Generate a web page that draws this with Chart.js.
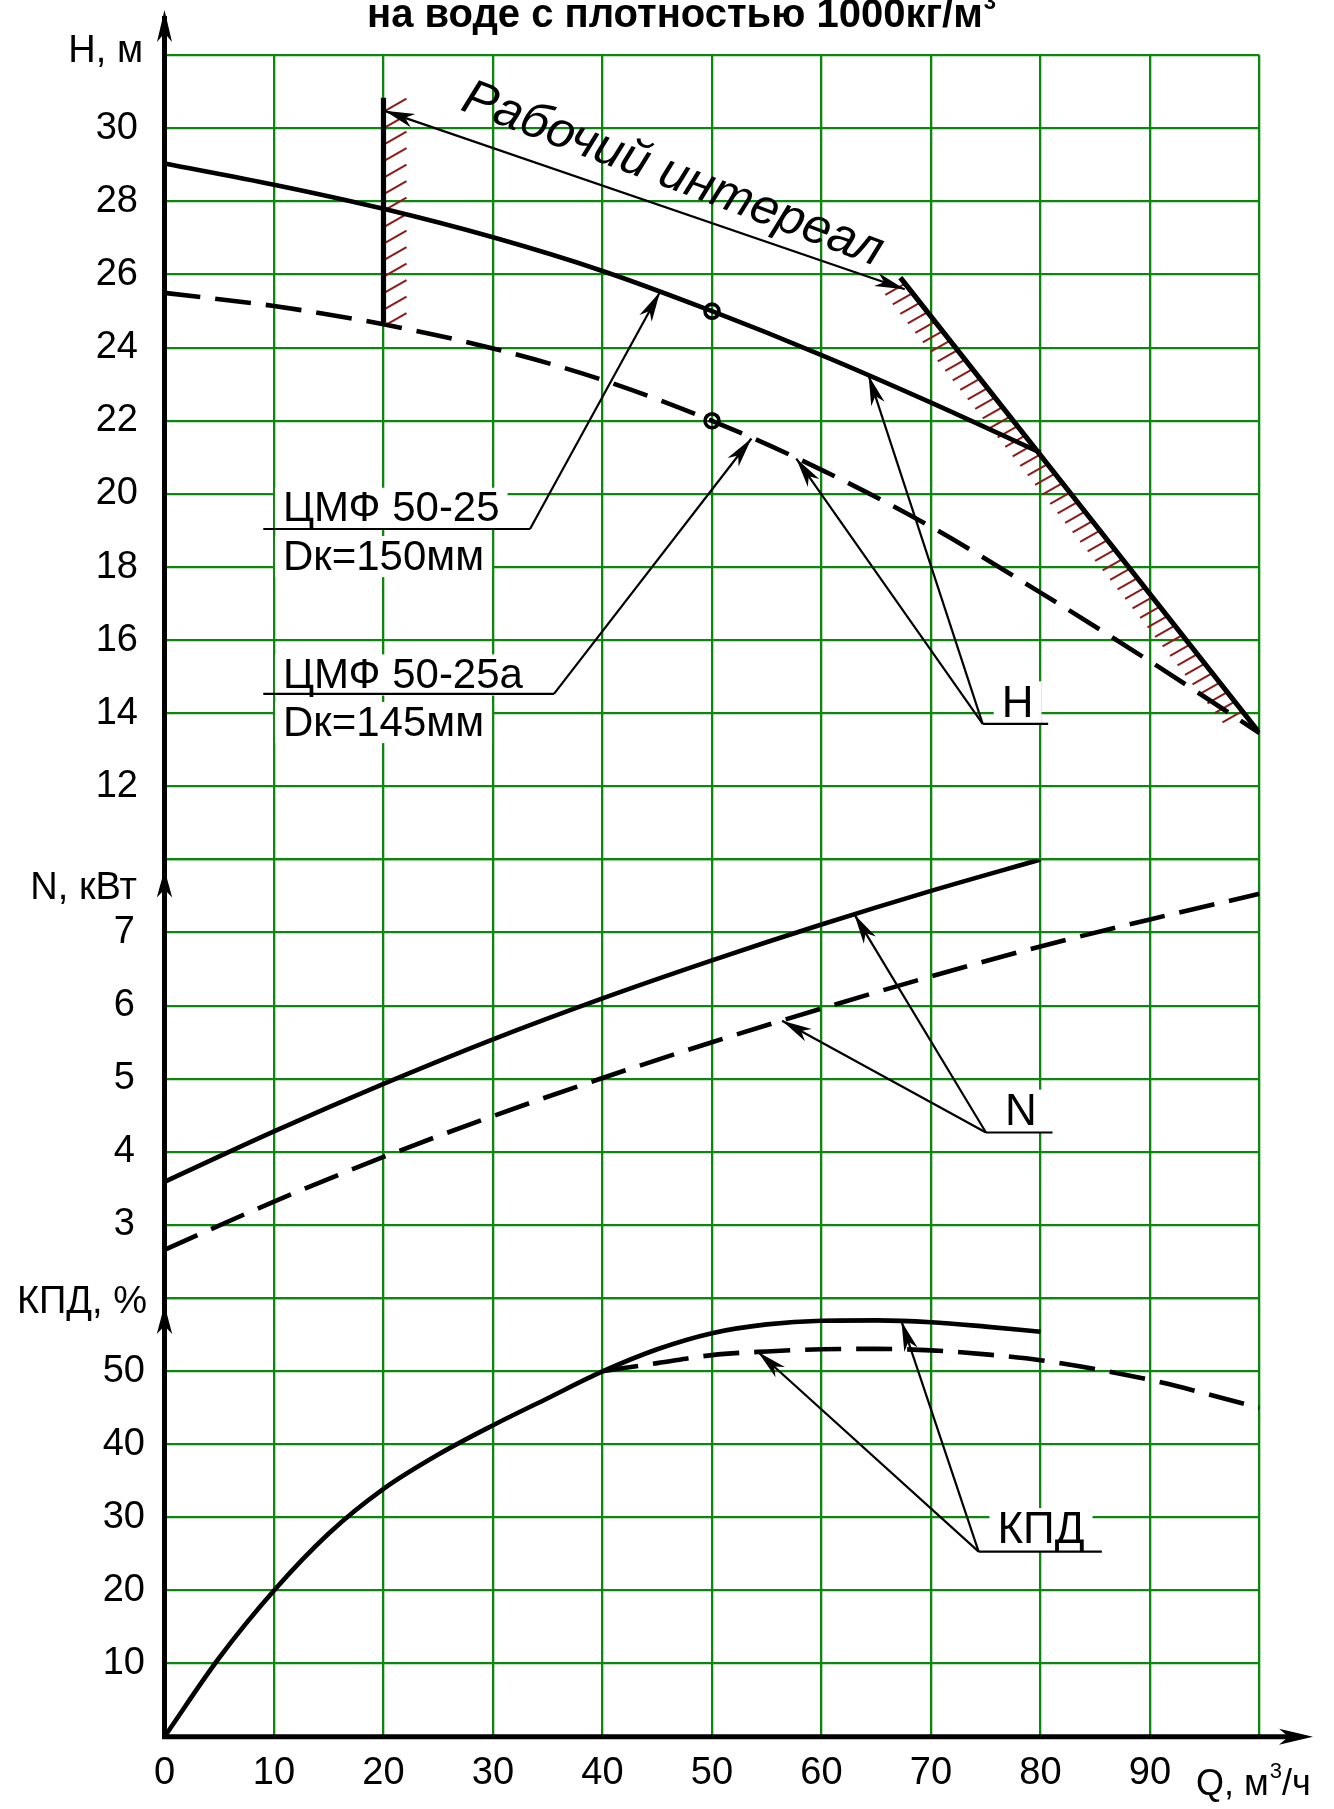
<!DOCTYPE html>
<html>
<head>
<meta charset="utf-8">
<script src="https://cdn.jsdelivr.net/npm/chart.js@4.4.1/dist/chart.umd.min.js"></script>
<style>
  body { margin: 0; background: #fff; }
  canvas { display: block; }
</style>
</head>
<body>
<canvas id="pumpChart" width="1334" height="1809"></canvas>
<script>
// Pump curves ЦМФ 50-25 / 50-25а
const qMain = [0, 10, 20, 30, 40, 50, 60, 70, 80];
const qTrim = [0, 10, 20, 30, 40, 50, 60, 70, 80, 90, 100];

const headMain = [29.04, 28.46, 27.8, 27.02, 26.1, 25.0, 23.8, 22.5, 21.13];
const headTrim = [25.5, 25.14, 24.64, 23.98, 23.12, 22.0, 20.66, 19.1, 17.3, 15.42, 13.46];

const powerMain = [3.59, 4.28, 4.93, 5.54, 6.1, 6.62, 7.11, 7.57, 8.0];
const powerTrim = [2.66, 3.32, 3.93, 4.49, 5.01, 5.5, 5.96, 6.4, 6.81, 7.18, 7.53];

const qEffMain = [0, 5, 10, 15, 20, 25, 30, 35, 40, 45, 50, 55, 60, 65, 70, 75, 80];
const effMain = [0, 10.8, 20, 27.8, 33.9, 38.6, 42.6, 46.3, 49.96, 53.0, 55.2, 56.4, 56.9, 56.95, 56.7, 56.1, 55.4];
const qEffTrim = [40, 45, 50, 55, 60, 65, 70, 75, 80, 90, 100];
const effTrim = [50.0, 51.1, 52.2, 52.7, 53.0, 53.05, 52.85, 52.3, 51.5, 48.8, 45.0];

// working range limits and duty points
const leftLimitQ = [20, 20];
const leftLimitH = [30.84, 24.7];
const rightLimitQ = [67.2, 100];
const rightLimitH = [25.92, 13.46];
const dutyQ = [50, 50];
const dutyH = [25.0, 22.0];

// tick labels
const qTicks = [0, 10, 20, 30, 40, 50, 60, 70, 80, 90];
const headTicks = [12, 14, 16, 18, 20, 22, 24, 26, 28, 30];
const powerTicks = [3, 4, 5, 6, 7];
const effTicks = [10, 20, 30, 40, 50];

const gridGreen = '#0b870b';
const hatchRed = '#8e1b1b';
const fontFamily = "'Liberation Sans', Arial, sans-serif";
const curveWidth = 4.6;
const dashes = [36, 15];

function pts(xs, ys) {
    return xs.map((x, i) => ({ x: x, y: ys[i] }));
}

// linear look-up on a curve, used to land leader arrows on it
function valueAt(xs, ys, q) {
    for (let i = 1; i < xs.length; i++) {
        if (q <= xs[i]) {
            const t = (q - xs[i - 1]) / (xs[i] - xs[i - 1]);
            return ys[i - 1] + t * (ys[i] - ys[i - 1]);
        }
    }
    return ys[ys.length - 1];
}

// callout labels (positions in chart units)
const callouts = [
    { axis: 'yH', under: [9.02, 33.38], v: 19.04, elbow: 33.38, tips: [[qMain, headMain, 45.25]] },
    { axis: 'yH', under: [9.02, 35.57], v: 14.53, elbow: 35.57, tips: [[qTrim, headTrim, 53.6]] },
    { axis: 'yH', under: [74.72, 80.7], v: 13.71, elbow: 74.72, tips: [[qMain, headMain, 64.3], [qTrim, headTrim, 57.7]] },
    { axis: 'yN', under: [75.02, 81.1], v: 4.265, elbow: 75.02, tips: [[qMain, powerMain, 63], [qTrim, powerTrim, 56.4]] },
    { axis: 'yE', under: [74.35, 85.6], v: 25.32, elbow: 74.35, tips: [[qEffTrim, effTrim, 54.2], [qEffMain, effMain, 67.3]] }
];
const calloutTexts = [
    { axis: 'yH', text: 'ЦМФ 50-25', q: 10.82, v: 19.25, size: 42 },
    { axis: 'yH', text: 'Dк=150мм', q: 10.82, v: 17.93, size: 42 },
    { axis: 'yH', text: 'ЦМФ 50-25а', q: 10.82, v: 14.69, size: 42 },
    { axis: 'yH', text: 'Dк=145мм', q: 10.82, v: 13.39, size: 42 },
    { axis: 'yH', text: 'H', q: 76.46, v: 13.91, size: 44 },
    { axis: 'yN', text: 'N', q: 76.76, v: 4.37, size: 44 },
    { axis: 'yE', text: 'КПД', q: 76.07, v: 26.47, size: 44 }
];

function toPx(chart, axis, q, v) {
    return { x: chart.scales.x.getPixelForValue(q), y: chart.scales[axis].getPixelForValue(v) };
}

function arrowHead(ctx, tip, from, len, half) {
    const a = Math.atan2(tip.y - from.y, tip.x - from.x);
    const c = Math.cos(a), s = Math.sin(a);
    const bx = tip.x - c * len, by = tip.y - s * len;
    const nx = tip.x - c * len * 0.72, ny = tip.y - s * len * 0.72;
    ctx.beginPath();
    ctx.moveTo(tip.x, tip.y);
    ctx.lineTo(bx - s * half, by + c * half);
    ctx.lineTo(nx, ny);
    ctx.lineTo(bx + s * half, by - c * half);
    ctx.closePath();
    ctx.fill();
}

const pumpDecor = {
    id: 'pumpDecor',
    beforeDatasetsDraw(chart) {
        const ctx = chart.ctx;
        ctx.save();
        ctx.strokeStyle = hatchRed;
        ctx.lineWidth = 2;
        // hatching right of the left limit
        const lt = toPx(chart, 'yH', leftLimitQ[0], leftLimitH[0]);
        const lb = toPx(chart, 'yH', leftLimitQ[1], leftLimitH[1]);
        for (let y = lt.y + 13; y < lb.y + 8; y += 16.5) {
            ctx.beginPath();
            ctx.moveTo(lt.x + 2, y);
            ctx.lineTo(lt.x + 23, y - 12);
            ctx.stroke();
        }
        // hatching left of the right limit
        const r0 = toPx(chart, 'yH', rightLimitQ[0], rightLimitH[0]);
        const r1 = toPx(chart, 'yH', rightLimitQ[1], rightLimitH[1]);
        const len = Math.hypot(r1.x - r0.x, r1.y - r0.y);
        const ux = (r1.x - r0.x) / len, uy = (r1.y - r0.y) / len;
        for (let s = 8; s < len - 22; s += 12.1) {
            const px = r0.x + ux * s, py = r0.y + uy * s;
            ctx.beginPath();
            ctx.moveTo(px - 20, py + 11);
            ctx.lineTo(px - 1.5, py + 0.5);
            ctx.stroke();
        }
        ctx.restore();
    },
    afterDatasetsDraw(chart) {
        const ctx = chart.ctx;
        ctx.save();
        // callout texts on white patches
        calloutTexts.forEach(t => {
            const p = toPx(chart, t.axis, t.q, t.v);
            ctx.font = t.size + 'px ' + fontFamily;
            const w = ctx.measureText(t.text).width;
            ctx.fillStyle = '#fff';
            ctx.fillRect(p.x - 8, p.y - t.size * 0.8, w + 16, t.size * 0.98);
            ctx.fillStyle = '#000';
            ctx.textAlign = 'left';
            ctx.textBaseline = 'alphabetic';
            ctx.fillText(t.text, p.x, p.y);
        });
        // leader lines with arrows
        ctx.strokeStyle = '#000';
        ctx.fillStyle = '#000';
        ctx.lineWidth = 2.2;
        callouts.forEach(c => {
            const a = toPx(chart, c.axis, c.under[0], c.v);
            const b = toPx(chart, c.axis, c.under[1], c.v);
            ctx.beginPath();
            ctx.moveTo(a.x, a.y);
            ctx.lineTo(b.x, b.y);
            ctx.stroke();
            const e = toPx(chart, c.axis, c.elbow, c.v);
            c.tips.forEach(([xs, ys, q]) => {
                const tip = toPx(chart, c.axis, q, valueAt(xs, ys, q));
                ctx.beginPath();
                ctx.moveTo(e.x, e.y);
                ctx.lineTo(tip.x, tip.y);
                ctx.stroke();
                arrowHead(ctx, tip, e, 30, 7);
            });
        });
        // working range arrow and its caption
        const w0 = toPx(chart, 'yH', 20.1, 30.48);
        const w1 = toPx(chart, 'yH', 67.6, 25.6);
        ctx.beginPath();
        ctx.moveTo(w0.x, w0.y);
        ctx.lineTo(w1.x, w1.y);
        ctx.stroke();
        arrowHead(ctx, w0, w1, 30, 7);
        arrowHead(ctx, w1, w0, 30, 7);
        const ang = Math.atan2(w1.y - w0.y, w1.x - w0.x) + 0.03;
        const tp = toPx(chart, 'yH', 26.92, 30.52);
        ctx.translate(tp.x, tp.y);
        ctx.rotate(ang);
        ctx.font = 'italic 50px ' + fontFamily;
        ctx.textAlign = 'left';
        ctx.textBaseline = 'alphabetic';
        ctx.fillText('Рабочий интереал', 0, 0);
        ctx.restore();
    },
    afterDraw(chart) {
        const ctx = chart.ctx;
        const area = chart.chartArea;
        ctx.save();
        ctx.strokeStyle = '#000';
        ctx.fillStyle = '#000';
        // axes
        ctx.lineWidth = 5;
        ctx.beginPath();
        ctx.moveTo(area.left, 16);
        ctx.lineTo(area.left, area.bottom + 2.5);
        ctx.moveTo(area.left - 2.5, area.bottom);
        ctx.lineTo(1290, area.bottom);
        ctx.stroke();
        arrowHead(ctx, { x: area.left, y: 10 }, { x: area.left, y: 100 }, 32, 7.5);
        arrowHead(ctx, { x: area.left, y: chart.scales.yN.top + 10 }, { x: area.left, y: 1000 }, 28, 7.7);
        arrowHead(ctx, { x: area.left, y: chart.scales.yE.top + 7 }, { x: area.left, y: 1500 }, 29, 7.7);
        arrowHead(ctx, { x: 1313, y: area.bottom }, { x: 1000, y: area.bottom }, 34, 8);

        // axis titles
        ctx.textAlign = 'right';
        ctx.textBaseline = 'alphabetic';
        ctx.font = '38px ' + fontFamily;
        ctx.fillText('H, м', 143, 62);
        ctx.fillText('N, кВт', 137, 899);
        ctx.fillText('КПД, %', 147, 1313);

        ctx.textAlign = 'left';
        ctx.font = '36px ' + fontFamily;
        let x = 1196;
        ctx.fillText('Q, м', x, 1795);
        x += ctx.measureText('Q, м').width;
        ctx.font = '22px ' + fontFamily;
        ctx.fillText('3', x + 1, 1778);
        x += ctx.measureText('3').width + 1;
        ctx.font = '36px ' + fontFamily;
        ctx.fillText('/ч', x, 1795);

        // title, clipped at the top edge as in the drawing
        ctx.font = 'bold 40px ' + fontFamily;
        const main = 'на воде с плотностью 1000кг/м';
        const mw = ctx.measureText(main).width;
        ctx.font = 'bold 22px ' + fontFamily;
        const sw = ctx.measureText('3').width;
        const start = 681 - (mw + sw) / 2;
        ctx.font = 'bold 40px ' + fontFamily;
        ctx.fillText(main, start, 27);
        ctx.font = 'bold 22px ' + fontFamily;
        ctx.fillText('3', start + mw + 1, 9);
        ctx.restore();
    }
};

function tickFont() {
    return { family: fontFamily, size: 38 };
}

const plainLine = {
    borderColor: '#000',
    borderWidth: curveWidth,
    pointRadius: 0,
    fill: false,
    cubicInterpolationMode: 'monotone'
};

new Chart(document.getElementById('pumpChart'), {
    type: 'line',
    data: {
        datasets: [
            Object.assign({ label: 'H 50-25', yAxisID: 'yH', data: pts(qMain, headMain) }, plainLine),
            Object.assign({ label: 'H 50-25а', yAxisID: 'yH', data: pts(qTrim, headTrim), borderDash: dashes }, plainLine),
            Object.assign({ label: 'Q min', yAxisID: 'yH', data: pts(leftLimitQ, leftLimitH) }, plainLine, { borderWidth: 5.2 }),
            Object.assign({ label: 'Q max', yAxisID: 'yH', data: pts(rightLimitQ, rightLimitH) }, plainLine, { borderWidth: 5.2 }),
            {
                label: 'duty', yAxisID: 'yH', data: pts(dutyQ, dutyH), showLine: false,
                pointRadius: 7, pointBorderWidth: 3.6, pointBorderColor: '#000',
                pointBackgroundColor: 'rgba(0,0,0,0)'
            },
            Object.assign({ label: 'N 50-25', yAxisID: 'yN', data: pts(qMain, powerMain) }, plainLine),
            Object.assign({ label: 'N 50-25а', yAxisID: 'yN', data: pts(qTrim, powerTrim), borderDash: dashes }, plainLine),
            Object.assign({ label: 'КПД 50-25', yAxisID: 'yE', data: pts(qEffMain, effMain) }, plainLine),
            Object.assign({ label: 'КПД 50-25а', yAxisID: 'yE', data: pts(qEffTrim, effTrim), borderDash: dashes }, plainLine)
        ]
    },
    options: {
        responsive: false,
        animation: false,
        devicePixelRatio: 1,
        layout: { padding: { top: 55.3, right: 74.5, bottom: 0, left: 0 } },
        plugins: { legend: { display: false }, tooltip: { enabled: false } },
        scales: {
            x: {
                type: 'linear', min: 0, max: 100,
                afterFit: s => { s.height = 72.3; },
                grid: { color: gridGreen, lineWidth: 2.3, drawTicks: false },
                border: { display: false },
                ticks: {
                    stepSize: 10, autoSkip: false, maxRotation: 0, padding: 14, color: '#000', font: tickFont(),
                    callback: v => qTicks.includes(v) ? String(v) : ''
                }
            },
            yE: {
                type: 'linear', position: 'left', stack: 'pump', stackWeight: 6, min: 0, max: 60,
                afterFit: s => { s.width = 164.5; },
                grid: { color: gridGreen, lineWidth: 2.3, drawTicks: false },
                border: { display: false },
                ticks: {
                    stepSize: 10, autoSkip: false, padding: 19.5, color: '#000', font: tickFont(),
                    callback: v => effTicks.includes(v) ? String(v) : ''
                }
            },
            yN: {
                type: 'linear', position: 'left', stack: 'pump', stackWeight: 6, min: 2, max: 8,
                afterFit: s => { s.width = 164.5; },
                grid: { color: gridGreen, lineWidth: 2.3, drawTicks: false },
                border: { display: false },
                ticks: {
                    stepSize: 1, autoSkip: false, padding: 29.5, color: '#000', font: tickFont(),
                    callback: v => powerTicks.includes(v) ? String(v) : ''
                }
            },
            yH: {
                type: 'linear', position: 'left', stack: 'pump', stackWeight: 11, min: 10, max: 32,
                afterFit: s => { s.width = 164.5; },
                grid: { color: gridGreen, lineWidth: 2.3, drawTicks: false },
                border: { display: false },
                ticks: {
                    stepSize: 2, autoSkip: false, padding: 26.5, color: '#000', font: tickFont(),
                    callback: v => headTicks.includes(v) ? String(v) : ''
                }
            }
        }
    },
    plugins: [pumpDecor]
});
</script>
</body>
</html>
